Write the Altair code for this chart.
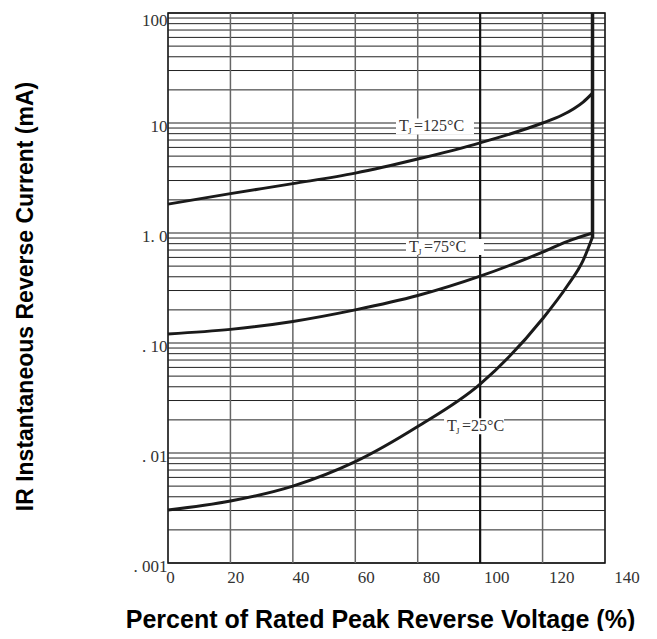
import altair as alt
import pandas as pd

# ---- data ----
x125 = [0, 20, 40, 60, 80, 100, 120, 126, 130, 133, 136]
y125 = [1.83, 2.28, 2.81, 3.5, 4.7, 6.6, 10.0, 11.7, 13.5, 15.5, 18.7]

x75 = [0, 20, 40, 60, 80, 100, 120, 128, 136]
y75 = [0.121, 0.133, 0.157, 0.20, 0.27, 0.405, 0.67, 0.84, 1.0]

x25 = [0, 20, 40, 60, 80, 100, 120, 128, 133, 136]
y25 = [0.00303, 0.00366, 0.005, 0.00834, 0.0174, 0.0423, 0.166, 0.333, 0.564, 0.92]

x_break = [136, 136]
y_break = [0.9, 100]

x_ticks = [0, 20, 40, 60, 80, 100, 120, 140]
x_grid = [20, 40, 60, 80, 120]
x_bold = [100]

y_decades = [0.001, 0.01, 0.1, 1, 10, 100]
y_decade_labels = [". 001", ". 01", ". 10", "1. 0", "10", "100"]
y_minor = [m * d for d in [0.001, 0.01, 0.1, 1, 10] for m in range(1, 10)] + [100]

label_sub = ["=125°C", "=75°C", "=25°C"]
label_x = [74.0, 77.2, 89.4]
label_y = [9.3, 0.745, 0.0175]
label_box_w = [78, 78, 60]

W, H = 437, 550

xscale = alt.Scale(domain=[0, 140], nice=False, zero=False)
yscale = alt.Scale(type="log", domain=[0.001, 100], nice=False)

serif = "Liberation Serif"
sans = "Liberation Sans"

label_expr = " : ".join(
    f"abs(datum.value - {v}) < {v}*1e-6 ? '{t}'" for v, t in zip(y_decades, y_decade_labels)
) + " : ''"

curves = pd.DataFrame(
    [{"series": "125", "x": a, "y": b} for a, b in zip(x125, y125)]
    + [{"series": "75", "x": a, "y": b} for a, b in zip(x75, y75)]
    + [{"series": "25", "x": a, "y": b} for a, b in zip(x25, y25)]
)
brk = pd.DataFrame({"x": x_break, "y": y_break})

XT = "Percent of Rated Peak Reverse Voltage (%)"
YT = "IR Instantaneous Reverse Current (mA)"
X = lambda: alt.X("x:Q", scale=xscale, title=XT)
Y = lambda: alt.Y("y:Q", scale=yscale, title=YT)

hgrid = alt.Chart(pd.DataFrame({"y": y_minor})).mark_rule(color="#222", strokeWidth=1).encode(
    y=alt.Y("y:Q", scale=yscale, title=YT,
            axis=alt.Axis(values=y_decades, labelExpr=label_expr, ticks=False, domain=False, grid=False,
                          labelFont=serif, labelFontSize=17, labelColor="#333",
                          labelPadding=1, labelBaseline="middle",
                          labelOffset=alt.ExprRef("datum.value >= 99 ? 7 : 3"),
                          titleFont=sans, titleFontSize=23,
                          titleFontWeight="bold", titleColor="black", titleX=-143, titleY=283,
                          titleBaseline="middle", titleAngle=270))
)

vgrid = alt.Chart(pd.DataFrame({"x": x_grid})).mark_rule(color="#666", strokeWidth=1.5).encode(
    x=alt.X("x:Q", scale=xscale, title=XT,
            axis=alt.Axis(values=x_ticks, ticks=False, domain=False, grid=False, labelFlush=False,
                          labelOverlap=False, labelFont=serif, labelFontSize=17, labelColor="#333",
                          labelPadding=6, labelOffset=alt.ExprRef("2 + datum.value*0.14"),
                          titleFont=sans,
                          titleFontSize=25, titleFontWeight="bold", titleColor="black",
                          titleX=212, titleY=64, titleBaseline="alphabetic"))
)

vbold = alt.Chart(pd.DataFrame({"x": x_bold})).mark_rule(color="#111", strokeWidth=2.2).encode(x=X())

box_layers = []
text_layers = []
for t, lx, ly, bw in zip(label_sub, label_x, label_y, label_box_w):
    d = pd.DataFrame({"x": [lx], "y": [ly], "t": [t]})
    base = alt.Chart(d).encode(x=X(), y=Y())
    box_layers.append(base.mark_rect(color="white", width=bw, height=16, xOffset=bw / 2 - 3))
    text_layers.append(base.mark_text(text="T", align="left", baseline="middle", font=serif,
                                      fontSize=16, color="#333"))
    text_layers.append(base.mark_text(text="J", align="left", baseline="middle", font=serif,
                                      fontSize=9, color="#333", dx=9, dy=5))
    text_layers.append(base.mark_text(align="left", baseline="middle", font=serif,
                                      fontSize=16, color="#333", dx=15).encode(text="t:N"))

curve_layer = alt.Chart(curves).mark_line(color="#1a1a1a", strokeWidth=3, interpolate="monotone").encode(
    x=X(), y=Y(), detail="series:N",
)
brk_layer = alt.Chart(brk).mark_line(color="#1a1a1a", strokeWidth=3.5).encode(x=X(), y=Y())

chart = alt.layer(hgrid, vgrid, vbold, *box_layers, curve_layer, brk_layer, *text_layers).properties(
    width=W, height=H,
    autosize=alt.AutoSizeParams(type="none"),
    padding={"left": 160, "top": 5, "right": 44, "bottom": 68},
    background="white",
).configure_view(stroke="black", strokeWidth=1.5)

chart.save("out.html", embed_options={"renderer": "svg", "actions": False})
